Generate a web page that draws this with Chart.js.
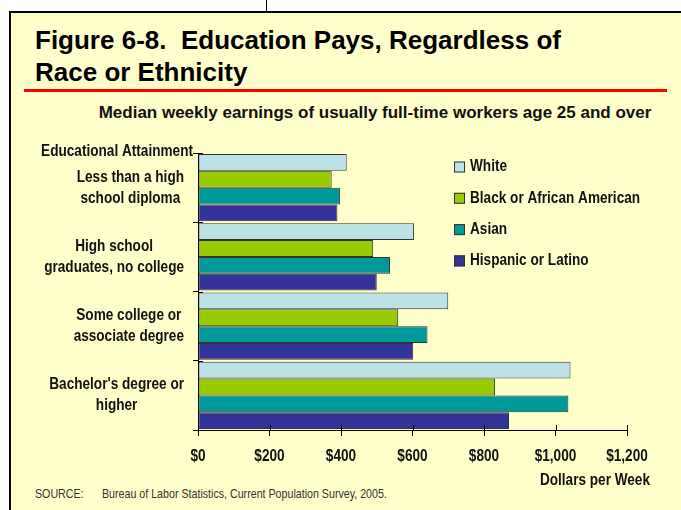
<!DOCTYPE html>
<html>
<head>
<meta charset="utf-8">
<script src="https://cdn.jsdelivr.net/npm/chart.js@4.4.1/dist/chart.umd.min.js"></script>
<style>
  html, body { margin: 0; padding: 0; background: #fff; }
  body { width: 681px; height: 510px; position: relative; overflow: hidden; font-family: "Liberation Sans", Arial, sans-serif; }
  #frame { position: absolute; left: 9px; top: 11px; width: 700px; height: 520px; border: 2px solid #000; background: #FFFFCC; }
  #stem { position: absolute; left: 266px; top: 0; width: 1px; height: 12px; background: #000; }
  #title { position: absolute; left: 35px; top: 24px; font-weight: bold; font-size: 26px; line-height: 32px; color: #000; white-space: nowrap; }
  #rule { position: absolute; left: 24px; top: 89px; width: 643px; height: 3px; background: #FF0000; }
  #subtitle { position: absolute; left: 75px; width: 600px; top: 103px; text-align: center; font-weight: bold; font-size: 17px; color: #111; white-space: nowrap; }
  .src { position: absolute; top: 486px; font-size: 13px; color: #333; white-space: nowrap; transform: scaleX(0.82); transform-origin: left top; }
  #chart { position: absolute; left: 0; top: 0; }
</style>
</head>
<body>
<div id="frame"></div>
<div id="stem"></div>
<div id="title">Figure 6-8.&nbsp; Education Pays, Regardless of<br>Race or Ethnicity</div>
<div id="rule"></div>
<div id="subtitle">Median weekly earnings of usually full-time workers age 25 and over</div>
<div class="src" style="left:35px">SOURCE:</div>
<div class="src" style="left:102px">Bureau of Labor Statistics, Current Population Survey, 2005.</div>
<canvas id="chart" width="681" height="510"></canvas>
<script>
// categories (y axis), one array of lines per label
const categories = [
    ['Less than a high', 'school diploma'],
    ['High school', 'graduates, no college'],
    ['Some college or', 'associate degree'],
    ["Bachelor's degree or", 'higher']
];
const seriesNames = ['White', 'Black or African American', 'Asian', 'Hispanic or Latino'];

// median weekly earnings, dollars
const whiteValues = [416, 604, 700, 1042];
const blackValues = [374, 490, 560, 831];
const asianValues = [397, 537, 642, 1036];
const hispanicValues = [390, 500, 602, 870];

const xTicks = [0, 200, 400, 600, 800, 1000, 1200];
const xTitle = 'Dollars per Week';
const yTitle = 'Educational Attainment';

const barColors = ['#BCE2E6', '#99CC00', '#009999', '#333399'];
const labelFont = 'bold 16px "Liberation Sans", Arial, sans-serif';
const squeeze = 0.85; // the original uses a narrow face

const dollars = (v) => '$' + Number(v).toLocaleString('en-US');

// text drawn narrower than the installed font
function narrowText(ctx, text, x, y, align) {
    ctx.save();
    ctx.translate(x, y);
    ctx.scale(squeeze, 1);
    ctx.textAlign = align;
    ctx.fillText(text, 0, 0);
    ctx.restore();
}

// draws tick labels, inner tick stubs, the axis titles and the legend
const extrasPlugin = {
    id: 'extras',
    afterDraw(chart) {
        const ctx = chart.ctx;
        const y = chart.scales.y;
        const x = chart.scales.x;
        ctx.save();

        // the original's tick marks cross the axis lines
        ctx.strokeStyle = '#000';
        ctx.lineWidth = 1;
        ctx.beginPath();
        x.ticks.forEach((t) => {
            const px = Math.round(x.getPixelForValue(t.value)) + 0.5;
            ctx.moveTo(px, x.top - 5);
            ctx.lineTo(px, x.top);
        });
        for (let i = 0; i <= chart.data.labels.length; i++) {
            const py = Math.round(y.getPixelForValue(i - 0.5)) + 0.5;
            ctx.moveTo(y.right, py);
            ctx.lineTo(y.right + 5, py);
        }
        ctx.stroke();

        ctx.font = labelFont;
        ctx.fillStyle = '#111';
        ctx.textBaseline = 'middle';

        // category labels: each block centred, blocks right aligned
        const lineH = 21;
        chart.data.labels.forEach((lines, i) => {
            const cy = y.getPixelForTick(i);
            const w = Math.max(...lines.map(l => ctx.measureText(l).width)) * squeeze;
            const cx = y.right - 14 - w / 2;
            lines.forEach((l, j) => {
                narrowText(ctx, l, cx, cy + (j - (lines.length - 1) / 2) * lineH, 'center');
            });
        });

        // x tick labels
        x.ticks.forEach((t) => {
            narrowText(ctx, dollars(t.value), x.getPixelForValue(t.value), x.top + 27, 'center');
        });

        // axis titles
        narrowText(ctx, yTitle, y.right - 5, y.top - 1, 'right');
        narrowText(ctx, xTitle, 650, 481, 'right');

        // legend
        const lx = 454, ly = 167, step = 31.3;
        chart.data.datasets.forEach((ds, i) => {
            const cy = ly + i * step;
            ctx.fillStyle = ds.backgroundColor;
            ctx.fillRect(lx, cy - 5.5, 11, 11);
            ctx.strokeStyle = '#333';
            ctx.lineWidth = 1;
            ctx.strokeRect(lx + 0.5, cy - 5, 10, 10);
            ctx.fillStyle = '#111';
            narrowText(ctx, ds.label, lx + 16, cy, 'left');
        });
        ctx.restore();
    }
};

const allValues = [whiteValues, blackValues, asianValues, hispanicValues];

const chart = new Chart(document.getElementById('chart').getContext('2d'), {
    type: 'bar',
    data: {
        labels: categories,
        datasets: seriesNames.map((name, i) => ({
            label: name,
            data: allValues[i],
            backgroundColor: barColors[i],
            borderColor: '#333',
            borderWidth: 1,
            borderSkipped: false,
            categoryPercentage: 0.97,
            barPercentage: 1.0
        }))
    },
    options: {
        indexAxis: 'y',
        responsive: false,
        animation: false,
        events: [],
        layout: { padding: { left: 0, top: 153, right: 54, bottom: 0 } },
        plugins: {
            legend: { display: false },
            title: { display: false },
            tooltip: { enabled: false }
        },
        scales: {
            x: {
                min: 0,
                max: 1200,
                afterBuildTicks: (scale) => { scale.ticks = xTicks.map(v => ({ value: v })); },
                afterFit: (scale) => { scale.height = 80; },
                border: { display: true, color: '#000', width: 1 },
                grid: { drawOnChartArea: false, drawTicks: true, tickLength: 6, color: '#000' },
                ticks: { display: false }
            },
            y: {
                afterFit: (scale) => { scale.width = 198; },
                border: { display: true, color: '#000', width: 1 },
                grid: { drawOnChartArea: false, drawTicks: true, tickLength: 5, color: '#000', offset: true },
                ticks: { display: false }
            }
        }
    },
    plugins: [extrasPlugin]
});
</script>
</body>
</html>
